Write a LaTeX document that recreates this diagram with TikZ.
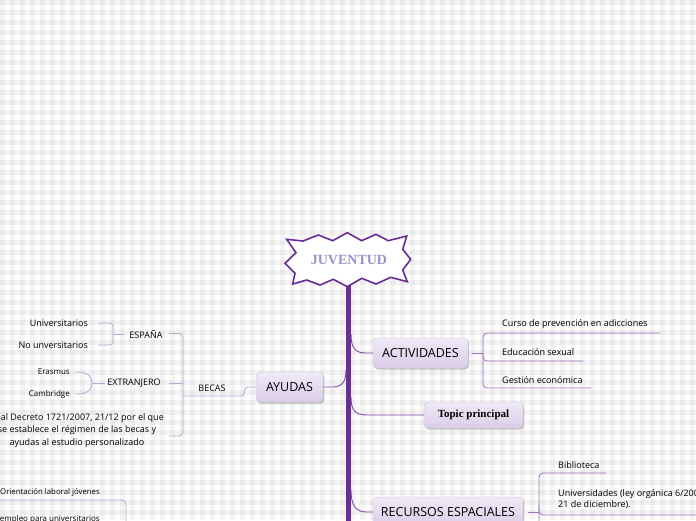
\documentclass[tikz,border=0pt]{standalone}
\usepackage{fontspec}
\setsansfont{Open Sans}
\newfontfamily\serifb{Liberation Serif}
\usetikzlibrary{shadows}
\definecolor{spinec}{RGB}{106,44,152}
\definecolor{branchc}{RGB}{128,72,168}
\definecolor{subc}{RGB}{190,165,215}
\definecolor{subd}{RGB}{160,115,195}
\definecolor{boxtop}{RGB}{240,234,246}
\definecolor{boxbot}{RGB}{218,205,232}
\definecolor{boxline}{RGB}{200,188,215}
\definecolor{juvtext}{RGB}{156,144,204}
\begin{document}
\begin{tikzpicture}[x=1pt,y=-1pt,
  topicbox/.style={rounded corners=4pt, top color=boxtop, bottom color=boxbot, draw=boxline, line width=0.3pt,
    drop shadow={shadow xshift=1.2pt, shadow yshift=-1.6pt, opacity=0.35, fill=black!60},
    font=\sffamily\fontsize{12.5}{14}\selectfont, inner sep=0pt, minimum height=30pt},
  leaf/.style={font=\sffamily\fontsize{9}{12}\selectfont, inner sep=0pt},
  smallleaf/.style={font=\sffamily\fontsize{8}{10}\selectfont, inner sep=0pt},
  midnode/.style={font=\sffamily\fontsize{9}{12}\selectfont, inner sep=0pt},
  branchline/.style={draw=branchc, line width=0.9pt},
  subline/.style={draw=subc, line width=0.8pt},
  subline2/.style={draw=subd, line width=0.8pt},
]
\useasboundingbox (0,0) rectangle (696,520);
\clip (0,0) rectangle (696,520);
% gingham background
\fill[white] (0,0) rectangle (696,520);
\foreach \i in {0,...,69} { \fill[black,opacity=0.045] (\i*10,0) rectangle (\i*10+5,520); }
\foreach \j in {0,...,51} { \fill[black,opacity=0.045] (0,\j*10) rectangle (696,\j*10+5); }

% spine
\coordinate (spinetop) at (348.5,284);
\coordinate (spinebot) at (348.5,530);
\draw[draw=spinec, line width=5pt] (spinetop) -- (spinebot);

% central burst
\draw[spinec, line width=1.6pt, fill=white, line join=miter]
  (286.7,239.3) -- (303,241) -- (318.3,235) -- (332.7,240.7) -- (347.3,232.7) -- (361.7,240.7)
  -- (376,234.3) -- (388.3,240.7) -- (406.7,236) -- (402.7,249.3) -- (410.7,259.3) -- (402.7,270)
  -- (407.3,281.7) -- (390.7,277.3) -- (376,284) -- (361.7,278.3) -- (347.3,286.7) -- (333.3,279.3)
  -- (320,285) -- (306.7,280) -- (292.7,284) -- (295,273.3) -- (285,263.3) -- (296,252.7) -- cycle;
\node[font=\serifb\bfseries\fontsize{14}{16}\selectfont, text=juvtext] (juv) at (349,260) {JUVENTUD};

% main topics
\node[topicbox, minimum width=67pt] (ayu) at (289.5,387) {AYUDAS};
\node[topicbox, minimum width=95pt] (act) at (420.5,353) {ACTIVIDADES};
\node[topicbox, minimum width=99pt, minimum height=26pt, font=\serifb\bfseries\fontsize{11}{13}\selectfont] (top) at (473.5,415) {Topic principal};
\node[topicbox, minimum width=150pt] (rec) at (448,512) {RECURSOS ESPACIALES};

% spine connectors
\coordinate (sA) at (351,334);
\coordinate (sT) at (351,397);
\coordinate (sR) at (351,489);
\coordinate (sY) at (346,370);
\draw[branchline] (sA) .. controls (351,348) and (355,353) .. (366,353) -- (act.west);
\draw[branchline] (sT) .. controls (351,410) and (355,415) .. (367,415) -- (top.west);
\draw[branchline] (sR) .. controls (351,505) and (355,512) .. (367,512) -- (rec.west);
\draw[branchline] (sY) .. controls (346,382) and (342,387) .. (332,387) -- (ayu.east);

% AYUDAS subtree
\node[midnode] (bec) at (212,388) {BECAS};
\draw[subline, rounded corners=3pt] (ayu.west) -- (245,387) -- (244,396) -- (183,396);
\node[midnode] (esp) at (146,334) {ESPAÑA};
\node[midnode] (ext) at (134,383) {EXTRANJERO};
\node[leaf, align=center, font=\sffamily\fontsize{9}{12.3}\selectfont] (rd) at (77,430.5)
  {Real Decreto 1721/2007, 21/12 por el que\\se establece el régimen de las becas y\\ayudas al estudio personalizado};
\draw[subline, rounded corners=4pt] (169,333.5) -- (183,333.5) -- (183,436) -- (169,436);
\draw[subline] (169,383) -- (183,383);

\node[leaf, anchor=east] (uni) at (88,323) {Universitarios};
\node[leaf, anchor=east] (nouni) at (88,345) {No unversitarios};
\draw[subline, rounded corners=3pt] ([xshift=10pt]uni.east) -- (113,323) -- (113,345) -- ([xshift=10pt]nouni.east);
\draw[subline] (113,334) -- ([xshift=-5pt]esp.west);

\node[smallleaf, anchor=east] (eras) at (70,372) {Erasmus};
\node[smallleaf, anchor=east] (camb) at (70,394) {Cambridge};
\draw[subline] ([xshift=6pt]eras.east) .. controls (89,372) and (92,377) .. (92,383)
  .. controls (92,389) and (89,394) .. ([xshift=6pt]camb.east);
\draw[subline] (92,383) -- ([xshift=-2pt]ext.west);

% ACTIVIDADES subtree
\node[leaf, anchor=west] (cur) at (502,324) {Curso de prevención en adicciones};
\node[leaf, anchor=west] (edu) at (502,352) {Educación sexual};
\node[leaf, anchor=west] (ges) at (502,380) {Gestión económica};
\draw[subline2] ([xshift=4pt]act.east) -- (483,353);
\draw[subline2, rounded corners=4pt] (660,333) -- (483,333) -- (483,388) -- (591,388);
\draw[subline2, rounded corners=4pt] (483,353) -- (483,361) -- (583,361);

% RECURSOS subtree
\node[leaf, anchor=west] (bib) at (558,465) {Biblioteca};
\node[leaf, anchor=north west, align=left, font=\sffamily\fontsize{9}{11}\selectfont] (unv) at (558,489.5)
  {Universidades (ley orgánica 6/2001, de\\21 de diciembre).};
\draw[subline2] ([xshift=5pt]rec.east) -- (539,512);
\draw[subline2, rounded corners=4pt] (606,473) -- (539,473) -- (539,530);
\draw[subline2, rounded corners=4pt] (539,505) -- (539,515) -- (700,515);

% lower-left subtree (cut by the frame)
\node[smallleaf, anchor=east, font=\sffamily\fontsize{7.8}{10}\selectfont] (ori) at (100,492) {Orientación laboral jóvenes};
\node[leaf, anchor=east, font=\sffamily\fontsize{8}{10}\selectfont] (emp) at (100,519) {empleo para universitarios};
\draw[subline, rounded corners=4pt] (-5,500) -- (126,500) -- (126,530);
\end{tikzpicture}
\end{document}
